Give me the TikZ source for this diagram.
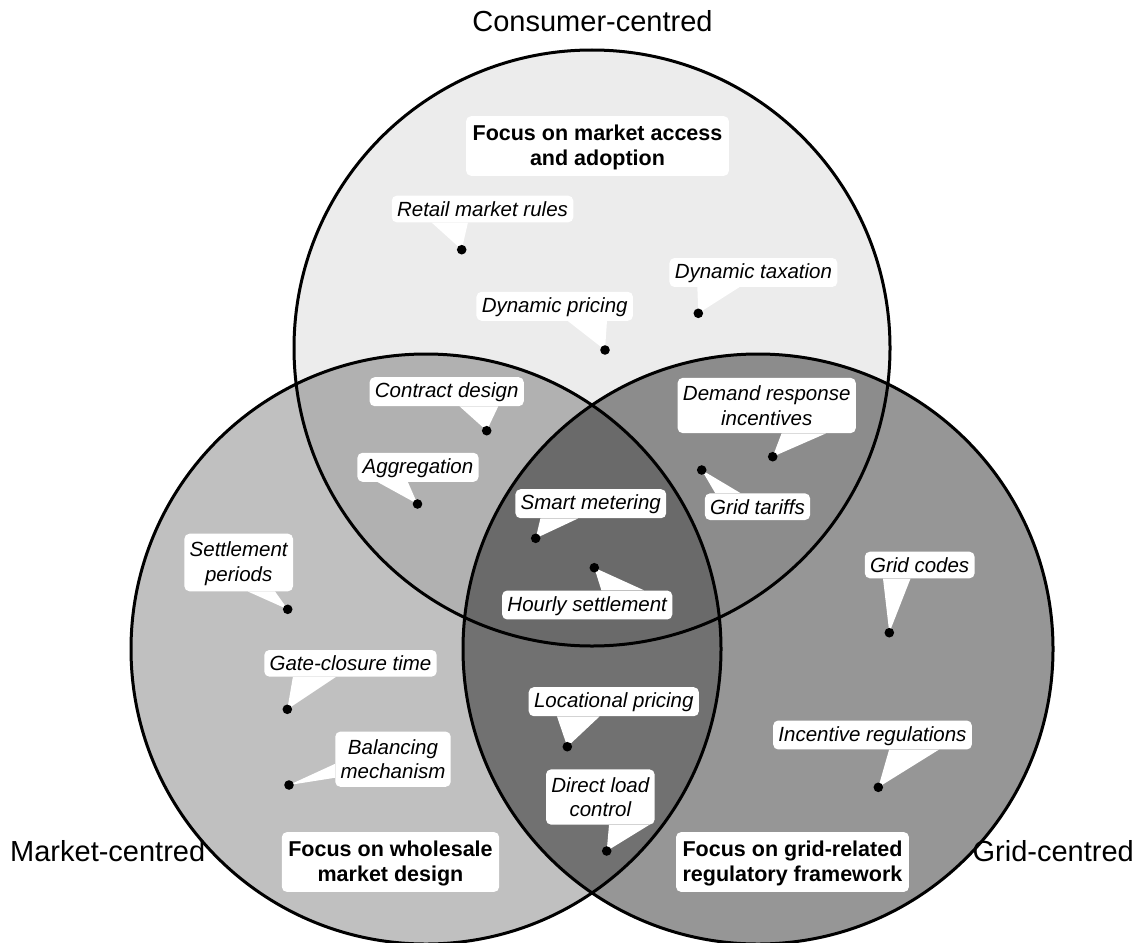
\documentclass[tikz,border=0pt]{standalone}
\usepackage{fontspec}
\setmainfont{Liberation Sans}
\usetikzlibrary{calc}

% struts for the italic labels and the bold focus boxes
\newcommand\ls{\rule[-1.9pt]{0pt}{18.6pt}}
\newcommand\lb{\rule[-2.3pt]{0pt}{21pt}}

% white wedge from one side of a label box to its dot
% #1 box, #2/#3 anchors spanning the side, #4/#5 fractions along it, #6 dot
\newcommand\pointer[6]{%
  \fill[white] ($(#1.#2)!#4!(#1.#3)$) -- ($(#1.#2)!#5!(#1.#3)$) -- (#6) -- cycle;}

\definecolor{topc}{gray}{0.925}
\definecolor{leftc}{gray}{0.753}
\definecolor{rightc}{gray}{0.588}
\definecolor{tlc}{gray}{0.694}
\definecolor{trc}{gray}{0.549}
\definecolor{lrc}{gray}{0.443}
\definecolor{triplec}{gray}{0.416}

\tikzset{
  lbl/.style={fill=white, rounded corners=5pt, inner xsep=5.3pt, inner ysep=4pt,
    font=\itshape\fontsize{20.5}{24.6}\selectfont, align=center},
  lbltwo/.style={lbl, inner ysep=6pt},
  focus/.style={fill=white, rounded corners=5pt, inner xsep=6.5pt, inner ysep=6pt,
    font=\bfseries\fontsize{21.5}{24.5}\selectfont, align=center},
  outer/.style={inner sep=0pt, font=\fontsize{29}{34}\selectfont},
  ring/.style={line width=3pt},
}

\begin{document}
\begin{tikzpicture}[x=1pt, y=-1pt]
\useasboundingbox (0,0) rectangle (1139,942);

% circle centres and radii
\coordinate (cT) at (592,348);
\coordinate (cL) at (426,649);
\coordinate (cR) at (758,649);
\def\rT{298pt}
\def\rB{295pt}

% region fills
\fill[topc] (cT) circle (\rT);
\fill[leftc] (cL) circle (\rB);
\fill[rightc] (cR) circle (\rB);
\begin{scope}
  \clip (cL) circle (\rB);
  \fill[lrc] (cR) circle (\rB);
\end{scope}
\begin{scope}
  \clip (cT) circle (\rT);
  \fill[tlc] (cL) circle (\rB);
  \fill[trc] (cR) circle (\rB);
  \clip (cL) circle (\rB);
  \fill[triplec] (cR) circle (\rB);
\end{scope}

% outlines
\draw[ring] (cT) circle (\rT);
\draw[ring] (cL) circle (\rB);
\draw[ring] (cR) circle (\rB);

% circle titles
\node[outer, anchor=base] (consumer) at (592.5,32) {Consumer-centred};
\node[outer, anchor=base west] (market) at (10,861) {Market-centred};
\node[outer, anchor=base east] (grid) at (1134,861) {Grid-centred};

% focus boxes
\node[focus] (fcons) at (597.5,146) {\lb Focus on market access\\\lb and adoption};
\node[focus] (fmark) at (390.5,862) {\lb Focus on wholesale\\\lb market design};
\node[focus] (fgrid) at (792.5,862) {\lb Focus on grid-related\\\lb regulatory framework};

% dot positions
\coordinate (p-retail) at (461.7,249.7);
\coordinate (p-tax) at (698.3,313.3);
\coordinate (p-dynp) at (605,350);
\coordinate (p-contract) at (486.7,430.7);
\coordinate (p-aggr) at (417.5,504);
\coordinate (p-smart) at (535.7,538.3);
\coordinate (p-hourly) at (594.3,567.7);
\coordinate (p-dr) at (772.7,456.7);
\coordinate (p-tariff) at (701.7,470);
\coordinate (p-settle) at (287.7,609.3);
\coordinate (p-gate) at (287.3,709.3);
\coordinate (p-bal) at (289,785);
\coordinate (p-codes) at (889.3,632.7);
\coordinate (p-incent) at (878.3,787.3);
\coordinate (p-loc) at (567.3,746.7);
\coordinate (p-dlc) at (606.7,851);

% labels with their wedges
\node[lbl] (retail) at (482.5,209) {\ls Retail market rules};
\pointer{retail}{south west}{south east}{0.22}{0.42}{p-retail}
\node[lbl] (tax) at (753.4,272.5) {\ls Dynamic taxation};
\pointer{tax}{south west}{south east}{0.1667}{0.4167}{p-tax}
\node[lbl] (dynp) at (554.7,306.3) {\ls Dynamic pricing};
\pointer{dynp}{south west}{south east}{0.5833}{0.8333}{p-dynp}
\node[lbl] (contract) at (446.7,391.7) {\ls Contract design};
\pointer{contract}{south west}{south east}{0.5833}{0.8333}{p-contract}
\node[lbl] (aggr) at (418,467.3) {\ls Aggregation};
\pointer{aggr}{south west}{south east}{0.1667}{0.4167}{p-aggr}
\node[lbl] (smart) at (590.8,503.7) {\ls Smart metering};
\pointer{smart}{south west}{south east}{0.1667}{0.4167}{p-smart}
\node[lbl] (hourly) at (587.2,605) {\ls Hourly settlement};
\pointer{hourly}{north west}{north east}{0.5833}{0.8333}{p-hourly}
\node[lbltwo] (dr) at (766.7,405.5) {\ls Demand response\\\ls incentives};
\pointer{dr}{south west}{south east}{0.5833}{0.8333}{p-dr}
\node[lbl] (tariff) at (757.5,506.7) {\ls Grid tariffs};
\pointer{tariff}{north west}{north east}{0.1}{0.34}{p-tariff}
\node[lbltwo] (settle) at (238.7,562.5) {\ls Settlement\\\ls periods};
\pointer{settle}{south west}{south east}{0.5833}{0.8333}{p-settle}
\node[lbl] (gate) at (350.5,663.3) {\ls Gate-closure time};
\pointer{gate}{south west}{south east}{0.1667}{0.4167}{p-gate}
\node[lbltwo] (bal) at (393,759.2) {\ls Balancing\\\ls mechanism};
\pointer{bal}{north west}{south west}{0.5833}{0.8333}{p-bal}
\node[lbl] (codes) at (919.7,565) {\ls Grid codes};
\pointer{codes}{south west}{south east}{0.1667}{0.4167}{p-codes}
\node[lbl] (incent) at (872.5,735) {\ls Incentive regulations};
\pointer{incent}{south west}{south east}{0.5833}{0.8333}{p-incent}
\node[lbl] (loc) at (613.8,701.7) {\ls Locational pricing};
\pointer{loc}{south west}{south east}{0.1667}{0.4167}{p-loc}
\node[lbltwo] (dlc) at (600.3,797) {\ls Direct load\\\ls control};
\pointer{dlc}{south west}{south east}{0.58}{0.95}{p-dlc}

% dots
\foreach \p in {p-retail,p-tax,p-dynp,p-contract,p-aggr,p-smart,p-hourly,p-dr,
  p-tariff,p-settle,p-gate,p-bal,p-codes,p-incent,p-loc,p-dlc}
  \fill (\p) circle (4.8pt);
\end{tikzpicture}
\end{document}
